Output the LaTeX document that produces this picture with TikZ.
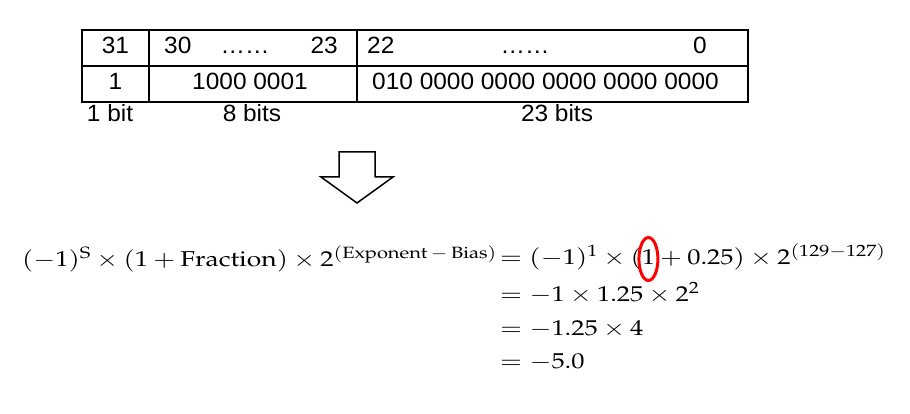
\documentclass[tikz,border=0pt]{standalone}
\usepackage[no-math]{fontspec}
\usepackage{mathpazo}
\usepackage{graphicx}
\newfontfamily\tabfont[FakeStretch=1.04]{Liberation Sans}
\usetikzlibrary{shapes.geometric}
\newcommand{\eqsc}[1]{\scalebox{1.23}[1]{$#1$}}
\begin{document}
\begin{tikzpicture}[x=1pt,y=-1pt,
  tabline/.style={line width=2pt},
  tt/.style={font=\tabfont\fontsize{23.5}{28}\selectfont, inner sep=0pt},
  eq/.style={font=\fontsize{21.5}{26}\selectfont, inner sep=0pt, outer sep=0pt, anchor=base west},
  ring/.style={ellipse, draw=red, line width=3pt, minimum width=19pt, minimum height=43pt, inner sep=0pt}]
\useasboundingbox (0,0) rectangle (910,414);
\fill[white] (0,0) rectangle (910,414);
% table
\draw[tabline] (82,30) rectangle (748,102);
\draw[tabline] (82,66) -- (748,66);
\draw[tabline] (149,30) -- (149,102);
\draw[tabline] (357,30) -- (357,102);
% header row
\node[tt, anchor=base] (h31) at (115.5,54) {31};
\node[tt, anchor=base west] (h30) at (164,54) {30};
\node[tt, anchor=base] (hd1) at (245,54) {……};
\node[tt, anchor=base east] (h23) at (338,54) {23};
\node[tt, anchor=base west] (h22) at (367,54) {22};
\node[tt, anchor=base] (hd2) at (525,54) {……};
\node[tt, anchor=base east] (h0) at (707,54) {0};
% value row
\node[tt, anchor=base] (r1) at (115.5,90) {1};
\node[tt, anchor=base] (r2) at (250,90) {1000 0001};
\node[tt, anchor=base] (r3) at (545.5,90) {010 0000 0000 0000 0000 0000};
% labels
\node[tt, anchor=base] (l1) at (110,122) {1 bit};
\node[tt, anchor=base] (l2) at (252,122) {8 bits};
\node[tt, anchor=base] (l3) at (557,122) {23 bits};
% arrow
\draw[line width=1.5pt, line join=miter] (339,152) -- (375,152) -- (375,177) -- (393,177) -- (357,203) -- (321,177) -- (339,177) -- cycle;
% equations
\node[eq] (e0) at (22,266) {\eqsc{(-1)^{\mathrm{S}}\times(1+\mathrm{Fraction})\times 2^{(\mathrm{Exponent}\,-\,\mathrm{Bias})}}};
\node[eq] (e1a) at (500,264) {\eqsc{=(-1)^{1}\times(}};
\node[eq] (one) at (e1a.base east) {\eqsc{1}};
\node[eq] (e1c) at (one.base east) {\eqsc{{}+0.25)\times 2^{(129-127)}}};
\node[eq] (e2) at (500,301) {\eqsc{=-1\times 1.25\times 2^{2}}};
\node[eq] (e3) at (500,335) {\eqsc{=-1.25\times 4}};
\node[eq] (e4) at (500,368) {\eqsc{=-5.0}};
\node[ring] (circ) at ([yshift=5pt]one.base) {};
\end{tikzpicture}
\end{document}
